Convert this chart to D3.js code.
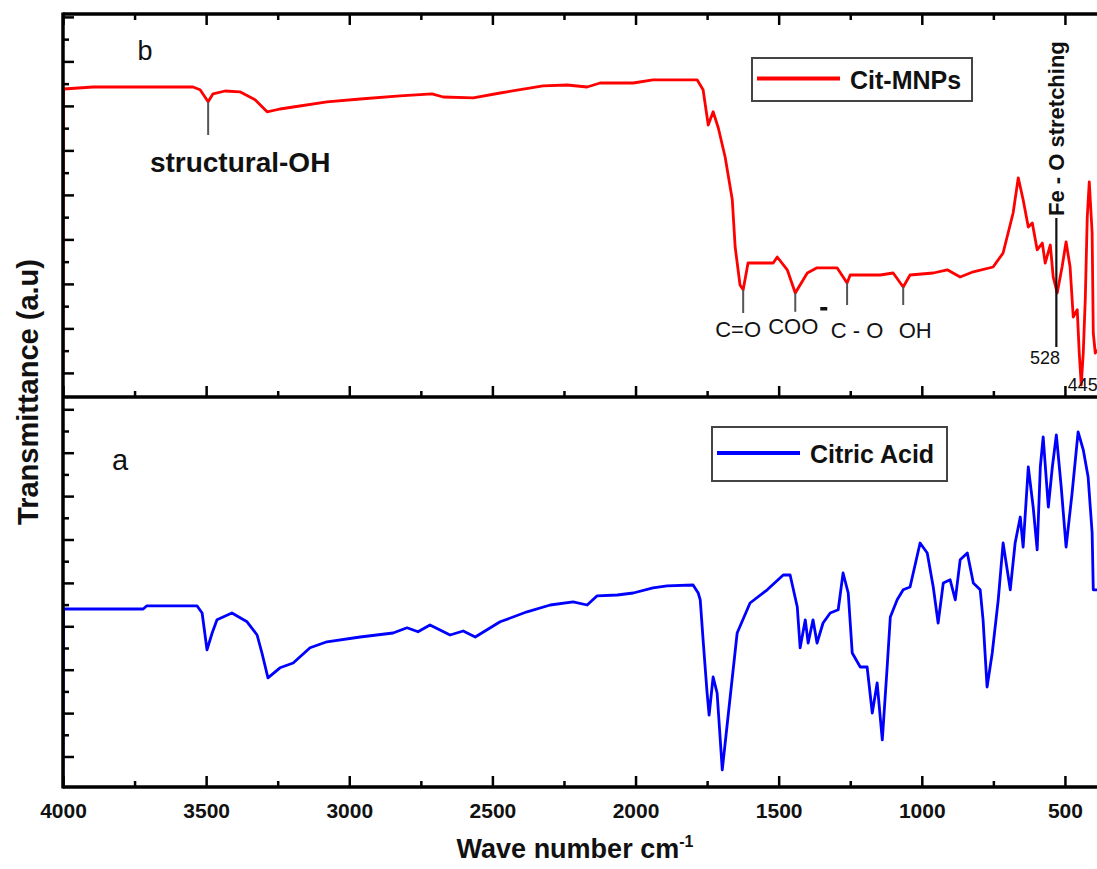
<!DOCTYPE html>
<html>
<head>
<meta charset="utf-8">
<script src="https://cdn.jsdelivr.net/npm/d3@7"></script>
<style>
  body { margin: 0; background: #fff; }
  svg { display: block; font-family: Arial, "Liberation Sans", sans-serif; }
  .tick text { font-weight: bold; font-size: 21px; fill: #111; }
  .domain { display: none; }
</style>
</head>
<body>
<div id="chart"></div>
<script>
// Data: [wavenumber cm-1, transmittance a.u.]
var citMNPs = [
  [4000, 5.5], [3998, 77], [3895, 77.5], [3720, 77.5], [3546, 77.5], [3521, 76.8], [3493, 73.8],
  [3476, 75.8], [3434, 76.5], [3382, 76.3], [3329, 74.3], [3287, 71.3], [3242, 72], [3196, 72.5],
  [3078, 73.8], [2962, 74.5], [2823, 75.3], [2711, 75.8], [2672, 75], [2567, 74.8], [2473, 76],
  [2323, 77.8], [2239, 78], [2169, 77.5], [2124, 78.5], [2008, 78.5], [1939, 79.3], [1785, 79.3],
  [1764, 76.8], [1746, 68], [1729, 71.3], [1711, 67.3], [1687, 60], [1662, 49.3], [1652, 37.5],
  [1635, 28], [1624, 26.8], [1607, 33.5], [1575, 33.5], [1519, 33.5], [1505, 35], [1470, 31.8],
  [1442, 26], [1400, 31], [1366, 32.3], [1296, 32.3], [1261, 28.5], [1250, 30.5], [1145, 30.5],
  [1100, 31], [1065, 27.5], [1041, 30.5], [960, 31], [911, 31.8], [866, 30], [820, 31.3],
  [751, 32.5], [716, 36], [681, 46], [663, 54.8], [646, 49.3], [628, 42.5], [614, 43.5],
  [597, 36.8], [579, 38.5], [569, 33.5], [551, 38], [541, 30], [527, 26], [510, 32.5],
  [496, 38.8], [482, 32.5], [471, 20], [457, 21.8], [450, 11], [443, 3], [436, 11], [429, 24.3],
  [422, 45], [415, 53.8], [405, 41], [401, 16], [394, 11], [387, 11.8]
];

var citricAcid = [
  [4000, 0], [3998, 44.5], [3720, 44.5], [3707, 45.3], [3532, 45.3], [3514, 43.5], [3497, 34.3],
  [3479, 38.5], [3462, 41.8], [3410, 43.5], [3357, 41.3], [3322, 38], [3305, 33.5], [3284, 27.3],
  [3242, 29.8], [3196, 31], [3137, 34.8], [3078, 36.3], [2962, 37.5], [2847, 38.5], [2798, 39.8],
  [2760, 38.8], [2718, 40.5], [2648, 38], [2602, 39], [2560, 37.5], [2473, 41.3], [2379, 43.8],
  [2298, 45.5], [2218, 46.3], [2169, 45.5], [2134, 47.8], [2064, 48], [2008, 48.5], [1939, 49.8],
  [1890, 50.3], [1799, 50.5], [1781, 48.5], [1774, 46.8], [1764, 36.8], [1750, 23.5], [1743, 18],
  [1729, 27.5], [1715, 23.5], [1697, 4.3], [1677, 17.5], [1645, 38.5], [1600, 46], [1540, 49.3],
  [1484, 53], [1460, 53], [1435, 45], [1425, 34.8], [1407, 41.8], [1397, 36], [1380, 41.8],
  [1366, 36], [1345, 41], [1320, 43.5], [1292, 44.3], [1275, 53.5], [1257, 48.5], [1243, 33.5],
  [1215, 30], [1191, 30], [1173, 18.5], [1156, 26], [1138, 11.8], [1121, 30], [1110, 42.5],
  [1086, 46.8], [1065, 49.3], [1041, 50], [1006, 61], [981, 58.5], [960, 50], [943, 41],
  [925, 51], [901, 51.8], [883, 46.8], [866, 56.8], [841, 58.5], [820, 51], [796, 49.3],
  [786, 41.8], [772, 25], [754, 33.5], [733, 46.8], [716, 61], [691, 49.3], [674, 61],
  [656, 67.5], [646, 60], [628, 80], [611, 70], [597, 59.3], [586, 80], [576, 87.5],
  [558, 70], [544, 80], [530, 88], [513, 75], [496, 60], [475, 73.5], [454, 88.8],
  [436, 84.3], [419, 77.5], [405, 63.5], [401, 49.3], [387, 49.3]
];

var xMajorTicks = [4000, 3500, 3000, 2500, 2000, 1500, 1000, 500];
var xMinorTicks = [3750, 3250, 2750, 2250, 1750, 1250, 750];

// peak markers: wavenumber, line from v0 down to v1 (a.u.)
var topPeaks = [
  {w: 3493, v0: 73.8, v1: 65.5},
  {w: 1624, v0: 26.8, v1: 21},
  {w: 1442, v0: 26, v1: 21.3},
  {w: 1261, v0: 28.5, v1: 23},
  {w: 1065, v0: 27.5, v1: 23}
];
var feO = {w: 530, v0: 44.75, v1: 12.5};

var W = 1097, H = 869;
var left = 63, right = 1097;
var topY = 14, midY = 397, botY = 787;

var svg = d3.select("#chart").append("svg")
    .attr("width", W)
    .attr("height", H);

var x = d3.scaleLinear().domain([4000, 388]).range([left, right]);
var yTop = d3.scaleLinear().domain([0, (midY - topY) / 4]).range([midY, topY]);
var yBot = d3.scaleLinear().domain([0, (botY - midY) / 4]).range([botY, midY]);

// clip paths
var defs = svg.append("defs");
defs.append("clipPath").attr("id", "clipTop").append("rect")
    .attr("x", left).attr("y", topY).attr("width", right - left).attr("height", midY - topY);
defs.append("clipPath").attr("id", "clipBot").append("rect")
    .attr("x", left).attr("y", midY).attr("width", right - left).attr("height", botY - midY);

var lineTop = d3.line().x(function(d){ return x(d[0]); }).y(function(d){ return yTop(d[1]); });
var lineBot = d3.line().x(function(d){ return x(d[0]); }).y(function(d){ return yBot(d[1]); });

svg.append("path").datum(citMNPs)
    .attr("clip-path", "url(#clipTop)")
    .attr("d", lineTop)
    .attr("fill", "none").attr("stroke", "#ff0000").attr("stroke-width", 2.8)
    .attr("stroke-linejoin", "round");

svg.append("path").datum(citricAcid)
    .attr("clip-path", "url(#clipBot)")
    .attr("d", lineBot)
    .attr("fill", "none").attr("stroke", "#0000ff").attr("stroke-width", 2.8)
    .attr("stroke-linejoin", "round");

// y ticks (no labels)
function yTicks(scale, start, step) {
    var majors = d3.range(start, scale.domain()[1], step);
    var minors = d3.range(start + step / 2, scale.domain()[1], step);
    var g = svg.append("g");
    g.selectAll(".ymaj").data(majors).enter().append("line")
        .attr("x1", left).attr("x2", left + 11)
        .attr("y1", function(d){ return scale(d); }).attr("y2", function(d){ return scale(d); })
        .attr("stroke", "#000").attr("stroke-width", 2.5);
    g.selectAll(".ymin").data(minors).enter().append("line")
        .attr("x1", left).attr("x2", left + 6)
        .attr("y1", function(d){ return scale(d); }).attr("y2", function(d){ return scale(d); })
        .attr("stroke", "#000").attr("stroke-width", 2.5);
}
yTicks(yTop, 5.9, 11.125);
yTicks(yBot, 7.5, 10.85);

// x axes, ticks inward
function xAxis(y, dir, labels) {
    var ax = (dir > 0 ? d3.axisBottom(x) : d3.axisTop(x));
    svg.append("g").attr("transform", "translate(0," + y + ")")
        .call(ax.tickValues(xMajorTicks).tickSize(-11).tickPadding(16)
            .tickFormat(labels ? d3.format("d") : ""))
        .call(function(g){ g.selectAll("line").attr("stroke", "#000").attr("stroke-width", 2.5); });
    var ax2 = (dir > 0 ? d3.axisBottom(x) : d3.axisTop(x));
    svg.append("g").attr("transform", "translate(0," + y + ")")
        .call(ax2.tickValues(xMinorTicks).tickSize(-6).tickFormat(""))
        .call(function(g){ g.selectAll("line").attr("stroke", "#000").attr("stroke-width", 2.5); });
}
xAxis(botY, 1, true);
xAxis(topY, -1, false);
xAxis(midY, 1, false);

// frame
[topY, midY, botY].forEach(function(yy){
    svg.append("line").attr("x1", left).attr("x2", right).attr("y1", yy).attr("y2", yy)
        .attr("stroke", "#000").attr("stroke-width", 3.5);
});
svg.append("line").attr("x1", left).attr("x2", left).attr("y1", topY - 1.5).attr("y2", botY + 1.5)
    .attr("stroke", "#000").attr("stroke-width", 3.5);

// panel letters
svg.append("text").attr("x", 145).attr("y", 60).attr("text-anchor", "middle")
    .attr("font-size", 27).attr("fill", "#111").text("b");
svg.append("text").attr("x", 120).attr("y", 470).attr("text-anchor", "middle")
    .attr("font-size", 29).attr("fill", "#111").text("a");

// peak markers
svg.selectAll(".peak").data(topPeaks).enter().append("line")
    .attr("x1", function(d){ return x(d.w); }).attr("x2", function(d){ return x(d.w); })
    .attr("y1", function(d){ return yTop(d.v0); }).attr("y2", function(d){ return yTop(d.v1); })
    .attr("stroke", "#555").attr("stroke-width", 2);

svg.append("text").attr("x", x(3493) + 32).attr("y", 172).attr("text-anchor", "middle")
    .attr("font-size", 28).attr("font-weight", "bold").attr("fill", "#111").text("structural-OH");

var annY = 337;
svg.append("text").attr("x", x(1624) - 5).attr("y", annY).attr("text-anchor", "middle")
    .attr("font-size", 22).attr("fill", "#111").text("C=O");
svg.append("text").attr("x", x(1442) - 2).attr("y", annY - 3).attr("text-anchor", "middle")
    .attr("font-size", 22).attr("fill", "#111").text("COO");
svg.append("rect").attr("x", x(1442) + 25).attr("y", 307).attr("width", 7).attr("height", 3.5)
    .attr("fill", "#111");
svg.append("text").attr("x", x(1261) + 10).attr("y", annY + 1).attr("text-anchor", "middle")
    .attr("font-size", 22).attr("fill", "#111").text("C - O");
svg.append("text").attr("x", x(1065) + 12).attr("y", annY + 1).attr("text-anchor", "middle")
    .attr("font-size", 22).attr("fill", "#111").text("OH");

// Fe-O marker
svg.append("line")
    .attr("x1", x(feO.w)).attr("x2", x(feO.w))
    .attr("y1", yTop(feO.v0)).attr("y2", yTop(feO.v1))
    .attr("stroke", "#111").attr("stroke-width", 2.2);
svg.append("text")
    .attr("transform", "translate(" + (x(feO.w) + 8) + "," + (yTop(feO.v0) - 2) + ") rotate(-90)")
    .attr("font-size", 22).attr("font-weight", "bold").attr("fill", "#111")
    .text("Fe - O stretching");
svg.append("text").attr("x", x(528) - 12).attr("y", 364).attr("text-anchor", "middle")
    .attr("font-size", 18).attr("fill", "#111").text("528");
svg.append("text").attr("x", x(445) + 2).attr("y", 391).attr("text-anchor", "middle")
    .attr("font-size", 18).attr("fill", "#111").text("445");

// legends
function legend(x0, y0, w, h, color, label) {
    svg.append("rect").attr("x", x0).attr("y", y0).attr("width", w).attr("height", h)
        .attr("fill", "#fff").attr("stroke", "#444").attr("stroke-width", 2);
    svg.append("line").attr("x1", x0 + 5).attr("x2", x0 + 88)
        .attr("y1", y0 + h / 2 - 1).attr("y2", y0 + h / 2 - 1)
        .attr("stroke", color).attr("stroke-width", 4);
    svg.append("text").attr("x", x0 + 98).attr("y", y0 + h / 2 + 9)
        .attr("font-size", 25).attr("font-weight", "bold").attr("fill", "#111").text(label);
}
legend(752, 58, 220, 43, "#ff0000", "Cit-MNPs");
legend(712, 427, 235, 54, "#0000ff", "Citric Acid");

// axis titles
svg.append("text")
    .attr("transform", "translate(38,392) rotate(-90)")
    .attr("text-anchor", "middle")
    .attr("font-size", 29).attr("font-weight", "bold").attr("fill", "#111")
    .text("Transmittance (a.u)");

var xt = svg.append("text").attr("x", 575).attr("y", 858).attr("text-anchor", "middle")
    .attr("font-size", 27).attr("font-weight", "bold").attr("fill", "#111");
xt.append("tspan").text("Wave number cm");
xt.append("tspan").attr("dy", -11).attr("font-size", 16).text("-1");
</script>
</body>
</html>
